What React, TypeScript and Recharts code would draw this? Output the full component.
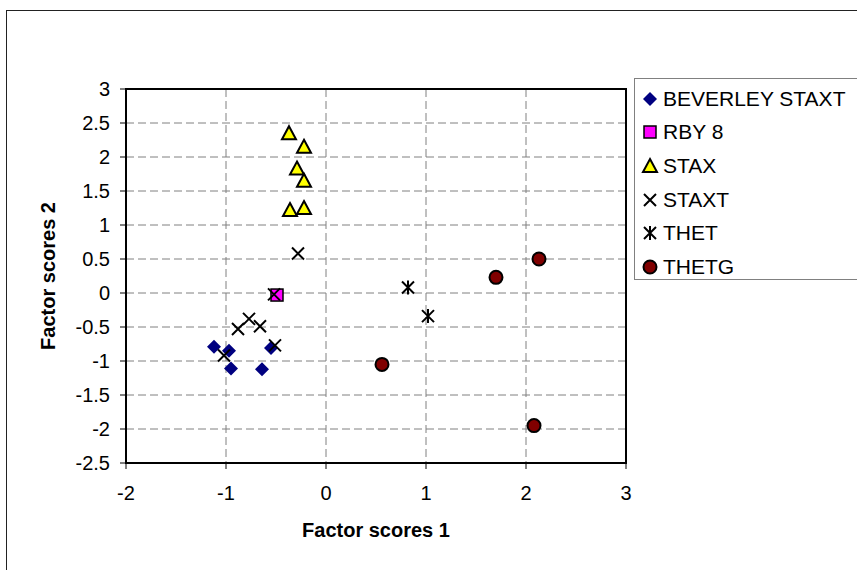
import React from "react";
import { ScatterChart, Scatter, XAxis, YAxis, CartesianGrid, Legend, ReferenceArea, Label } from "recharts";

// values
const beverleyX = [-1.12, -0.97, -0.95, -0.64, -0.55];
const beverleyY = [-0.79, -0.85, -1.11, -1.12, -0.81];
const rbyX = [-0.49];
const rbyY = [-0.03];
const staxX = [-0.37, -0.22, -0.29, -0.22, -0.36, -0.22];
const staxY = [2.35, 2.15, 1.83, 1.65, 1.22, 1.25];
const staxtX = [-0.28, -0.52, -0.77, -0.88, -0.66, -0.51, -1.02];
const staxtY = [0.58, -0.02, -0.38, -0.53, -0.49, -0.77, -0.92];
const thetX = [0.82, 1.02];
const thetY = [0.08, -0.34];
const thetgX = [2.13, 1.7, 0.56, 2.08];
const thetgY = [0.5, 0.23, -1.05, -1.95];

const xTicks = [-2, -1, 0, 1, 2, 3];
const yTicks = [-2.5, -2, -1.5, -1, -0.5, 0, 0.5, 1, 1.5, 2, 2.5, 3];

const font = "'Liberation Sans', Arial, sans-serif";

const pts = (xs: number[], ys: number[]) => xs.map((x, i) => ({ x, y: ys[i] }));

type P = { cx?: number; cy?: number };

const Diamond = ({ cx = 0, cy = 0 }: P) => (
  <path d={`M${cx},${cy - 7}L${cx + 7},${cy}L${cx},${cy + 7}L${cx - 7},${cy}Z`} fill="#000080" />
);
const Square = ({ cx = 0, cy = 0 }: P) => (
  <rect x={cx - 6} y={cy - 6} width={12} height={12} fill="#ff00ff" stroke="#000" strokeWidth={1.5} />
);
const Triangle = ({ cx = 0, cy = 0 }: P) => (
  <path d={`M${cx},${cy - 7}L${cx + 7},${cy + 6}L${cx - 7},${cy + 6}Z`} fill="#ffff00" stroke="#000" strokeWidth={2} />
);
const Cross = ({ cx = 0, cy = 0 }: P) => (
  <path d={`M${cx - 6},${cy - 6}L${cx + 6},${cy + 6}M${cx + 6},${cy - 6}L${cx - 6},${cy + 6}`} stroke="#000" strokeWidth={2} />
);
const Star = ({ cx = 0, cy = 0 }: P) => (
  <path
    d={`M${cx - 6},${cy - 6}L${cx + 6},${cy + 6}M${cx + 6},${cy - 6}L${cx - 6},${cy + 6}M${cx},${cy - 7}L${cx},${cy + 7}`}
    stroke="#000"
    strokeWidth={2}
  />
);
const Dot = ({ cx = 0, cy = 0 }: P) => <circle cx={cx} cy={cy} r={6.5} fill="#800000" stroke="#000" strokeWidth={2} />;

const series = [
  { name: "BEVERLEY STAXT", data: pts(beverleyX, beverleyY), Shape: Diamond },
  { name: "RBY 8", data: pts(rbyX, rbyY), Shape: Square },
  { name: "STAX", data: pts(staxX, staxY), Shape: Triangle },
  { name: "STAXT", data: pts(staxtX, staxtY), Shape: Cross },
  { name: "THET", data: pts(thetX, thetY), Shape: Star },
  { name: "THETG", data: pts(thetgX, thetgY), Shape: Dot },
];

function LegendBox({ payload }: { payload?: { value?: string }[] }) {
  const names = payload && payload.length ? payload.map((p) => String(p.value)) : series.map((s) => s.name);
  return (
    <div style={{ paddingTop: 3 }}>
      {names.map((n) => {
        const s = series.find((q) => q.name === n);
        if (!s) return null;
        const Shape = s.Shape;
        return (
          <div key={n} style={{ display: "flex", alignItems: "center", height: 33.6, fontFamily: font, fontSize: 21, color: "#000" }}>
            <svg width={26} height={20} style={{ flex: "none" }}>
              <Shape cx={13} cy={10} />
            </svg>
            <span style={{ whiteSpace: "nowrap" }}>{n}</span>
          </div>
        );
      })}
    </div>
  );
}

const titleStyle = { fontWeight: "bold", fontSize: 20, fontFamily: font, fill: "#000" };

export default function App() {
  return (
    <div style={{ position: "absolute", left: 0, top: 0, width: 857, height: 570, overflow: "hidden", background: "#fff" }}>
      <div style={{ position: "absolute", left: 6, top: 10, width: 900, height: 620, border: "1px solid #222" }} />
      <div style={{ position: "absolute", left: 0, top: 0 }}>
        <ScatterChart width={857} height={570} margin={{ top: 89, right: 231, bottom: 0, left: 0 }}>
          <CartesianGrid stroke="#808080" strokeDasharray="8 4" strokeWidth={1} />
          <XAxis
            type="number"
            dataKey="x"
            domain={[-2, 3]}
            ticks={xTicks}
            height={107}
            axisLine={false}
            tickSize={6}
            tickMargin={17}
            tickLine={{ stroke: "#000" }}
            tick={{ fill: "#000", fontSize: 20, fontFamily: font }}
          >
            <Label
              content={({ viewBox }: any) => (
                <text x={(viewBox?.x ?? 0) + (viewBox?.width ?? 0) / 2} y={(viewBox?.y ?? 0) + 74} textAnchor="middle" style={titleStyle}>
                  Factor scores 1
                </text>
              )}
            />
          </XAxis>
          <YAxis
            type="number"
            dataKey="y"
            domain={[-2.5, 3]}
            ticks={yTicks}
            width={126}
            axisLine={false}
            tickSize={6}
            tickMargin={10}
            tickLine={{ stroke: "#000" }}
            tick={{ fill: "#000", fontSize: 20, fontFamily: font }}
          >
            <Label
              content={({ viewBox }: any) => {
                const cx = (viewBox?.x ?? 0) + 48;
                const cy = (viewBox?.y ?? 0) + (viewBox?.height ?? 0) / 2;
                return (
                  <text x={cx} y={cy} transform={`rotate(-90 ${cx} ${cy})`} textAnchor="middle" dominantBaseline="central" style={titleStyle}>
                    Factor scores 2
                  </text>
                );
              }}
            />
          </YAxis>
          <ReferenceArea x1={-2} x2={3} y1={-2.5} y2={3} fill="none" stroke="#000" strokeWidth={2} ifOverflow="visible" />
          {series.map((s) => (
            <Scatter
              key={s.name}
              name={s.name}
              data={s.data}
              shape={(p: any) => <s.Shape cx={p.cx} cy={p.cy} />}
              isAnimationActive={false}
            />
          ))}
          <Legend
            layout="horizontal"
            verticalAlign="middle"
            align="center"
            content={(props: any) => <LegendBox payload={props.payload} />}
            wrapperStyle={{
              position: "absolute",
              left: 634,
              top: 78,
              width: 260,
              height: 202,
              border: "1.5px solid #808080",
              background: "#fff",
              boxSizing: "border-box",
              paddingLeft: 2,
            }}
          />
        </ScatterChart>
      </div>
    </div>
  );
}
